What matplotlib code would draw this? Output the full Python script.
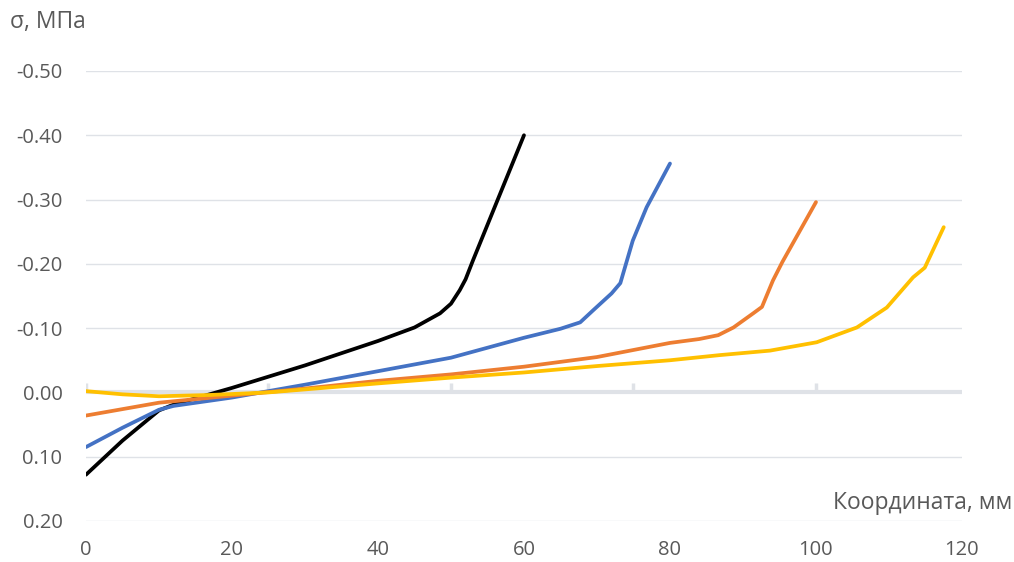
import matplotlib.pyplot as plt

# stress profiles along the coordinate, one per specimen length
x_60 = [0, 5, 10, 12, 20, 30, 40, 45, 48.5, 50, 51.2, 52, 53, 56.3, 60]
s_60 = [0.128, 0.075, 0.028, 0.019, -0.007, -0.042, -0.080, -0.101, -0.123, -0.138,
        -0.159, -0.176, -0.205, -0.297, -0.400]

x_80 = [0, 5, 10, 12, 20, 30, 40, 50, 60, 65, 67.7, 69.5, 72, 73.2, 74.9, 76.8, 80]
s_80 = [0.085, 0.055, 0.027, 0.021, 0.008, -0.012, -0.033, -0.054, -0.085, -0.099,
        -0.109, -0.128, -0.154, -0.170, -0.236, -0.288, -0.356]

x_100 = [0, 10, 20, 30, 40, 50, 60, 70, 80, 84, 86.6, 88.7, 91.4, 92.6, 94.1, 95.4, 100]
s_100 = [0.036, 0.016, 0.005, -0.006, -0.018, -0.028, -0.040, -0.055, -0.077, -0.083,
         -0.089, -0.101, -0.123, -0.133, -0.174, -0.203, -0.296]

x_120 = [0, 5, 10, 17, 25, 40, 50, 60, 70, 80, 86.8, 93.7, 100.1, 105.6, 109.7, 113.3,
         114.9, 117.5]
s_120 = [-0.002, 0.003, 0.006, 0.004, 0.000, -0.014, -0.023, -0.031, -0.041, -0.050,
         -0.058, -0.065, -0.078, -0.101, -0.132, -0.179, -0.194, -0.257]

y_ticks = [-0.5, -0.4, -0.3, -0.2, -0.1, 0.0, 0.1, 0.2]
x_ticks = [0, 20, 40, 60, 80, 100, 120]
zero_ticks = [0, 25, 50, 75, 100]

text_color = '#595959'
grid_color = '#DFE2E7'

plt.rcParams['font.family'] = ['Open Sans', 'DejaVu Sans']

fig = plt.figure(figsize=(10.14, 5.62), dpi=100)
ax = fig.add_axes([0.0848, 0.073, 0.8639, 0.8007])

for y in y_ticks:
    if y != 0.0:
        ax.plot([0, 120], [y, y], color=grid_color, linewidth=1.0, zorder=1)

# horizontal axis drawn through zero, with its own small ticks
ax.plot([0, 120], [0, 0], color=grid_color, linewidth=3.0, zorder=1, solid_capstyle='butt')
ax.vlines(zero_ticks, 0, -0.014, color=grid_color, linewidth=2.5, zorder=1)

lw = 2.7
style = dict(linewidth=lw, solid_joinstyle='round', solid_capstyle='round')
ax.plot(x_60, s_60, color='black', zorder=3, **style)
ax.plot(x_80, s_80, color='#4472C4', zorder=4, **style)
ax.plot(x_100, s_100, color='#ED7D31', zorder=5, **style)
ax.plot(x_120, s_120, color='#FFC000', zorder=6, **style)

ax.set_xlim(0, 120)
ax.set_ylim(0.2, -0.5)
ax.set_yticks(y_ticks)
ax.set_yticklabels([f'{v:.2f}' for v in y_ticks])
ax.set_xticks(x_ticks)
ax.set_xticklabels([str(v) for v in x_ticks])
ax.tick_params(axis='y', length=0, pad=17, labelsize=14.5, labelcolor=text_color)
ax.tick_params(axis='x', length=0, pad=14, labelsize=14.5, labelcolor=text_color)
for s in ax.spines.values():
    s.set_visible(False)

fig.text(0.010, 0.960, 'σ, МПа', fontsize=16.5, color=text_color, ha='left', va='center')
fig.text(0.998, 0.105, 'Координата, мм', fontsize=16.5, color=text_color, ha='right', va='center')

fig.savefig('out.png', dpi=100)
